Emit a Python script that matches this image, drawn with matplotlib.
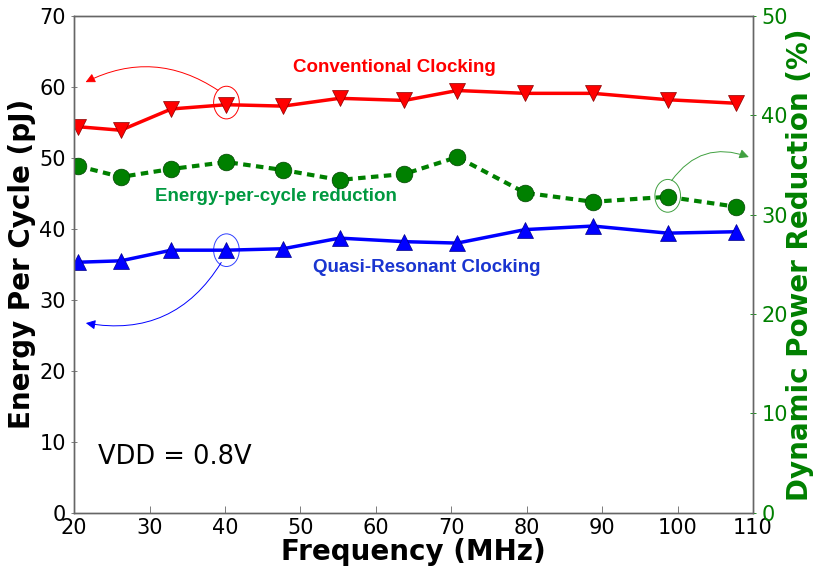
import matplotlib
matplotlib.use("Agg")
import matplotlib.pyplot as plt
from matplotlib.patches import Ellipse

freq = [20.5, 26.2, 32.9, 40.2, 47.7, 55.2, 63.8, 70.8, 79.8, 88.8, 98.7, 107.8]
conventional = [54.4, 53.9, 56.9, 57.5, 57.3, 58.4, 58.1, 59.5, 59.1, 59.1, 58.2, 57.7]
quasi_resonant = [35.3, 35.5, 37.0, 37.0, 37.2, 38.7, 38.2, 38.0, 39.9, 40.4, 39.4, 39.6]
reduction = [34.9, 33.8, 34.6, 35.3, 34.5, 33.5, 34.1, 35.8, 32.2, 31.3, 31.8, 30.8]

fig = plt.figure(figsize=(8.14, 5.71), dpi=100)
ax1 = fig.add_axes([0.091, 0.102, 0.834, 0.870])
ax2 = ax1.twinx()

ax1.plot(freq, conventional, color='red', lw=2.5, marker='v', markersize=12,
         markeredgecolor='#880000', markeredgewidth=0.5)
ax1.plot(freq, quasi_resonant, color='blue', lw=2.5, marker='^', markersize=12,
         markeredgecolor='#000088', markeredgewidth=0.5)
ax2.plot(freq, reduction, color='green', lw=3, ls=(0, (1.8, 1.3)), marker='o', markersize=12,
         markeredgecolor='#004400', markeredgewidth=0.5)

ax1.set_xlim(20, 110)
ax1.set_ylim(0, 70)
ax2.set_ylim(0, 50)
ax1.set_xticks(range(20, 111, 10))
ax1.set_yticks(range(0, 71, 10))
ax2.set_yticks(range(0, 51, 10))

ax1.tick_params(axis='both', labelsize=15, direction='inout', length=5, width=0.6, color='#666666')
ax1.tick_params(axis='x', direction='in')
ax2.tick_params(axis='y', labelsize=15, direction='inout', length=5, width=0.6,
                colors='green')
for ax in (ax1, ax2):
    for s in ax.spines.values():
        s.set_color('#666666')
        s.set_linewidth(1.0)

ax1.set_xlabel('Frequency (MHz)', fontsize=20, fontweight='bold', labelpad=0)
ax1.set_ylabel('Energy Per Cycle (pJ)', fontsize=20, fontweight='bold', labelpad=2)
ax2.set_ylabel('Dynamic Power Reduction (%)', fontsize=20, fontweight='bold',
               color='green', labelpad=-1)

ann_font = dict(family='Liberation Sans', fontweight='bold', fontsize=13.5,
                ha='center', va='center')
ax1.text(62.4, 62.8, 'Conventional Clocking', color='red', **ann_font)
ax1.text(46.8, 44.6, 'Energy-per-cycle reduction', color='#009940', **ann_font)
ax1.text(66.7, 34.6, 'Quasi-Resonant Clocking', color='#1a35d0', **ann_font)
ax1.text(33.3, 7.8, 'VDD = 0.8V', fontsize=18.5, ha='center', va='center')

# highlight circles and arrows to the matching axis
ax1.add_patch(Ellipse((40.2, 57.8), 3.4, 4.6, fill=False, ec='red', lw=0.7))
ax1.add_patch(Ellipse((40.2, 37.0), 3.4, 4.6, fill=False, ec='#3040ff', lw=0.7))
ax2.add_patch(Ellipse((98.7, 31.9), 3.4, 3.3, fill=False, ec='#40a040', lw=0.7))

ax1.annotate('', xy=(21.2, 60.5), xytext=(39.4, 59.3),
             arrowprops=dict(arrowstyle='-|>', connectionstyle='arc3,rad=0.3',
                             color='red', lw=0.7, mutation_scale=14))
ax1.annotate('', xy=(21.2, 26.8), xytext=(39.7, 35.6),
             arrowprops=dict(arrowstyle='-|>', connectionstyle='arc3,rad=-0.35',
                             color='blue', lw=0.7, mutation_scale=14))
ax2.annotate('', xy=(109.8, 35.7), xytext=(99.0, 33.2),
             arrowprops=dict(arrowstyle='-|>', connectionstyle='arc3,rad=-0.4',
                             color='#40a040', lw=0.7, mutation_scale=14))

fig.savefig('out.png', dpi=100)
